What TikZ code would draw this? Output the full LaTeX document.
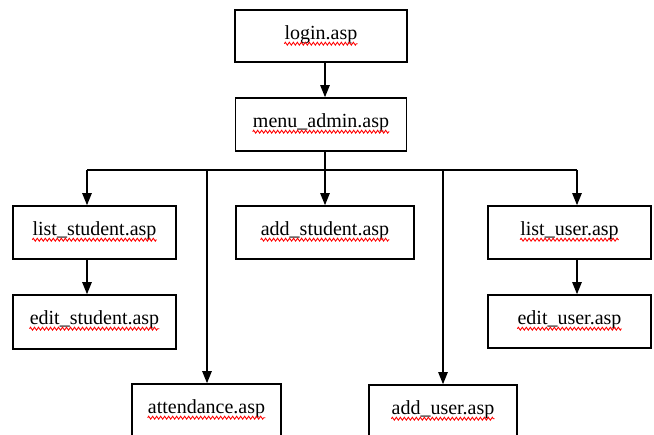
\documentclass[tikz,border=0pt]{standalone}
\usepackage{fontspec}
\setmainfont{Liberation Serif}
\usetikzlibrary{arrows.meta,decorations.pathmorphing}

\tikzset{
  pagebox/.style 2 args={draw=black, line width=1.2pt, fill=white,
    minimum width=#1*0.75pt, minimum height=#2*0.75pt, inner sep=0pt},
  pagename/.style={anchor=base, inner sep=0pt, font=\fontsize{15pt}{18pt}\selectfont},
  squiggle/.style={draw=red, line width=0.65pt,
    decorate, decoration={zigzag, amplitude=1.1pt, segment length=3pt}},
  wire/.style={draw=black, line width=1.1pt},
  flow/.style={wire, -{Triangle[length=9pt, width=7pt]}},
}

% place a page box and its file name (with the spell-check underline)
\newcommand\pagenode[6]{%
  \node[pagebox={#4}{#5}] (#1) at (#2,#3) {};
  \node[pagename] (#1txt) at ([yshift=-30*0.75pt]#1.north) {#6};
  \path[squiggle] ([yshift=-4.5*0.75pt]#1txt.base west) -- ([yshift=-4.5*0.75pt]#1txt.base east);
}

\begin{document}
\begin{tikzpicture}[x=0.75pt, y=-0.75pt]
  \clip (0,0) rectangle (654,435);
  \fill[white] (0,0) rectangle (654,435);

  % connector junctions
  \coordinate (trunk) at (325,170);
  \coordinate (busL) at (87,170);
  \coordinate (busR) at (577,170);
  \coordinate (attJ) at (207,170);
  \coordinate (addJ) at (443,170);

  % pages
  \pagenode{login}{321}{36}{172}{52}{login.asp}
  \pagenode{menu}{321}{124.5}{171}{53}{menu\_admin.asp}
  \pagenode{liststu}{94.5}{232.5}{163}{53}{list\_student.asp}
  \pagenode{editstu}{94.5}{322}{163}{54}{edit\_student.asp}
  \pagenode{addstu}{325}{232.5}{178}{53}{add\_student.asp}
  \pagenode{listuser}{569.5}{232.5}{163}{53}{list\_user.asp}
  \pagenode{edituser}{569.5}{321.5}{163}{53}{edit\_user.asp}
  \pagenode{att}{206.5}{411}{149}{54}{attendance.asp}
  \pagenode{adduser}{443}{412}{148}{54}{add\_user.asp}

  % connectors
  \draw[flow] (login.south -| trunk) -- (menu.north -| trunk);
  \draw[wire] (menu.south -| trunk) -- (trunk);
  \draw[wire] (busL) -- (busR);
  \draw[flow] (busL) -- (liststu.north -| busL);
  \draw[flow] (trunk) -- (addstu.north -| trunk);
  \draw[flow] (busR) -- (listuser.north -| busR);
  \draw[flow] (attJ) -- (att.north -| attJ);
  \draw[flow] (addJ) -- (adduser.north -| addJ);
  \draw[flow] (liststu.south -| busL) -- (editstu.north -| busL);
  \draw[flow] (listuser.south -| busR) -- (edituser.north -| busR);
\end{tikzpicture}
\end{document}
